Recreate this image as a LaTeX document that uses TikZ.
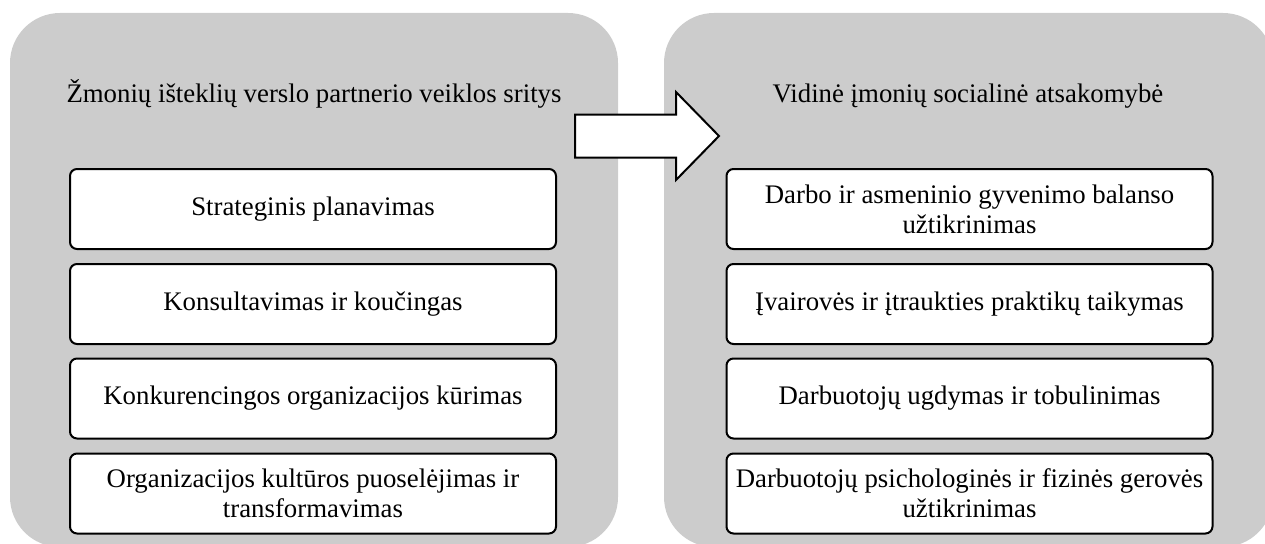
\documentclass[tikz,border=0pt]{standalone}
\usepackage{fontspec}
\setmainfont{Liberation Serif}
\definecolor{panelgray}{RGB}{204,204,204}
\begin{document}
\begin{tikzpicture}[x=1pt,y=-1pt,
  panel/.style={fill=panelgray, draw=none, rounded corners=50pt},
  itembox/.style={draw=black, fill=white, line width=2pt, rounded corners=7pt,
    minimum width=486pt, minimum height=80pt, align=center, inner sep=0pt,
    font=\fontsize{26.8}{30}\selectfont},
  heading/.style={anchor=base, font=\fontsize{26.8}{30}\selectfont},
  bigarrow/.style={draw=black, fill=white, line width=2pt, line join=miter}
]
\useasboundingbox (0,0) rectangle (1265,543);
\clip (0,0) rectangle (1265,543);
% panels
\fill[panel] (10,13) rectangle (618,547);
\fill[panel] (664,13) rectangle (1273,547);
% headings
\node[heading] (lh) at (314,102) {Žmonių išteklių verslo partnerio veiklos sritys};
\node[heading] (rh) at (968,102) {Vidinė įmonių socialinė atsakomybė};
% left boxes
\node[itembox] (l1) at (313,209) {Strateginis planavimas};
\node[itembox] (l2) at (313,304) {Konsultavimas ir koučingas};
\node[itembox] (l3) at (313,398.5) {Konkurencingos organizacijos kūrimas};
\node[itembox] (l4) at (313,493.5) {Organizacijos kultūros puoselėjimas ir\\transformavimas};
% right boxes
\node[itembox] (r1) at (969.5,209) {Darbo ir asmeninio gyvenimo balanso\\užtikrinimas};
\node[itembox] (r2) at (969.5,304) {Įvairovės ir įtraukties praktikų taikymas};
\node[itembox] (r3) at (969.5,398.5) {Darbuotojų ugdymas ir tobulinimas};
\node[itembox] (r4) at (969.5,493.5) {Darbuotojų psichologinės ir fizinės gerovės\\užtikrinimas};
% block arrow
\coordinate (tailtop) at (575,114.5);
\coordinate (tailbot) at (575,157.5);
\coordinate (tip) at (719,136);
\draw[bigarrow] (tailtop) -- (676,114.5) -- (676,92) -- (tip) -- (676,180) -- (676,157.5) -- (tailbot) -- cycle;
\end{tikzpicture}
\end{document}
